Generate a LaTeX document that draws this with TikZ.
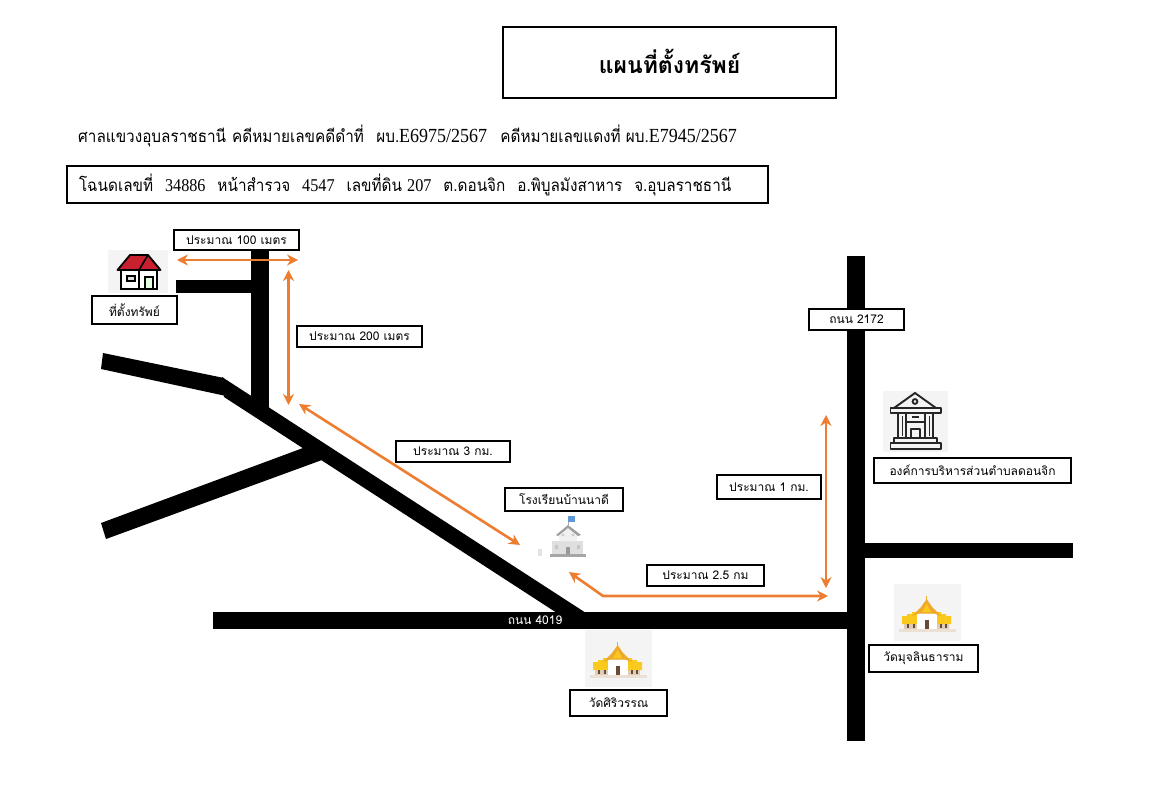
\documentclass[tikz,border=0pt]{standalone}
\usepackage{fontspec}
\usepackage{graphicx}
\setmainfont[Script=Thai]{Loma}
\newfontfamily\latinserif{Liberation Serif}
\usetikzlibrary{arrows.meta}
\definecolor{roadorange}{HTML}{ED7D31}
\definecolor{iconbg}{HTML}{F4F4F4}
\definecolor{roofred}{HTML}{C8202E}
\definecolor{watgold}{HTML}{EFA92B}
\definecolor{watyellow}{HTML}{F9C91E}
\definecolor{watbeige}{HTML}{DCCDB8}
\definecolor{watbrown}{HTML}{6B4A35}
\newcommand{\lsa}[1]{{\latinserif\fontsize{20}{22}\selectfont #1}}
\newcommand{\lsb}[1]{{\latinserif\fontsize{18}{20}\selectfont #1}}
\tikzset{
  x=1pt,y=-1pt,
  lbl/.style={draw=black,line width=1.9pt,fill=white,inner sep=0pt,align=center,font=\fontsize{12}{14}\selectfont,text=black},
  wide/.style={line width=2.4pt},
  road/.style={fill=black,draw=none},
  dist/.style={draw=roadorange,line width=2.6pt,{Stealth[length=11pt,width=11pt]}-{Stealth[length=11pt,width=11pt]}},
  pics/wat/.style={code={
    \fill[iconbg] (0,0) rectangle (67,57);
    \fill[watbeige!60!white] (5,45) rectangle (62,48);
    \fill[watbeige] (10,37) rectangle (55,45);
    \fill[watyellow] (8,40) -- (8,32) -- (13,32) -- (13,30) -- (18,30) -- (18,28) -- (24,28) -- (24,40) -- cycle;
    \fill[watyellow] (57,40) -- (57,32) -- (52,32) -- (52,30) -- (47,30) -- (47,28) -- (41,28) -- (41,40) -- cycle;
    \fill[white] (23,30) rectangle (43,45);
    \fill[watgold] (32.7,15) -- (38,23) -- (47,32) -- (40,29.5) -- (25,29.5) -- (18,32) -- (27,23) -- cycle;
    \fill[watyellow] (32.7,20) -- (37,28) -- (28,28) -- cycle;
    \fill[watgold] (32,12) rectangle (33.4,20);
    \fill[watbrown] (30.7,36) rectangle (35,45);
    \fill[watbrown] (13,40) rectangle (15,44);
    \fill[watbrown] (19,40) rectangle (21,44);
    \fill[watbrown] (46,40) rectangle (48,44);
    \fill[watbrown] (51,40) rectangle (53,44);
  }},
}
\begin{document}
\begin{tikzpicture}
\useasboundingbox (0,0) rectangle (1170,800);
\fill[white] (0,0) rectangle (1170,800);

% roads
\fill[road] (251,250) rectangle (269,409);
\fill[road] (176,279.5) rectangle (252,292.5);
\fill[road] (103,353) -- (224,378) -- (226,396) -- (101,369) -- cycle;
\fill[road] (222,377) -- (586,613) -- (557,613) -- (224,397) -- cycle;
\fill[road] (101,523) -- (303,448) -- (315,442) -- (335,452) -- (322,460) -- (106,539) -- cycle;
\fill[road] (213,612) rectangle (865,629);
\fill[road] (847,256) rectangle (865,741);
\fill[road] (865,543) rectangle (1073,558);

% house icon
\fill[iconbg] (108,250) rectangle (168,293);
\fill[white,draw=black,line width=2pt] (121,270) rectangle (157,289);
\fill[roofred,draw=black,line width=1.8pt,line join=round] (117.5,270) -- (130,255) -- (148,255) -- (160.5,270) -- cycle;
\draw[black,line width=1.6pt] (148,255) -- (139,270);
\draw[black,line width=1.6pt] (139,270) -- (139,289);
\draw[black,line width=1.4pt,fill=gray!25] (127,276) rectangle (135,281);
\draw[black,line width=1.4pt,fill=green!12] (145,277) rectangle (153,289);

% school icon
\fill[gray!22] (538,549) rectangle (542,556);
\fill[gray!25] (552,541) rectangle (583,554);
\fill[gray!12] (559,533) -- (568,527) -- (577,533) -- (577,541) -- (559,541) -- cycle;
\fill[gray!70] (550,554) rectangle (586,556.5);
\fill[gray!75] (556,535) -- (568,525) -- (581,535) -- (578,536) -- (568,528) -- (558,536) -- cycle;
\fill[gray!80] (566,547) rectangle (570,555);
\fill[gray!45] (555,545) rectangle (558,549);
\fill[gray!45] (577,545) rectangle (580,549);
\fill[gray!40] (563,535) circle (1.6);
\fill[gray!40] (573,535) circle (1.6);
\draw[gray!70,line width=.8pt] (568,525) -- (568,516);
\fill[cyan!55!blue!65] (568,516) rectangle (575,522);

% government icon
\fill[iconbg] (883,391) rectangle (948,452);
\begin{scope}[draw=black!85,line width=1.9pt,line join=round]
\draw (915,393) -- (936,408) -- (894,408) -- cycle;
\draw (890.5,408) rectangle (941,413);
\draw (915,401.5) circle (2.4);
\draw (898,413) -- (898,437) (906,413) -- (906,437);
\draw (925,413) -- (925,437) (933,413) -- (933,437);
\draw[line width=1pt] (902,416) -- (902,436) (929,416) -- (929,436);
\draw (906,422) -- (925,422);
\draw[line width=1.2pt] (912,417) -- (919,417);
\draw (911,429) rectangle (920,438);
\draw (894,438) rectangle (937,443);
\draw (890.5,443) rectangle (941,449);
\end{scope}

% temples
\pic at (585,630) {wat};
\pic at (894,584) {wat};

% distance markers
\coordinate (a1) at (177,260); \coordinate (a2) at (298,260);
\coordinate (b1) at (288.5,270); \coordinate (b2) at (288.5,405);
\coordinate (c1) at (299,404); \coordinate (c2) at (520,545);
\coordinate (d1) at (569,572); \coordinate (d2) at (603,596); \coordinate (d3) at (828,596);
\coordinate (e1) at (826,415); \coordinate (e2) at (826,588);
\draw[dist] (a1) -- (a2);
\draw[dist] (b1) -- (b2);
\draw[dist] (c1) -- (c2);
\draw[dist,line join=miter] (d1) -- (d2) -- (d3);
\draw[dist] (e1) -- (e2);

% labels
\node[lbl,wide,minimum width=333pt,minimum height=71pt,font=\fontsize{23}{26}\selectfont\bfseries] (title) at (669.5,62.5) {\raisebox{3pt}{แผนที่ตั้งทรัพย์}};
\node[anchor=west,inner sep=0pt,font=\fontsize{17}{19}\selectfont] (court) at (78,136) {\scalebox{.9}[1]{ศาลแขวงอุบลราชธานี \hspace*{1pt}คดีหมายเลขคดีดำที่\hspace*{8pt} ผบ.\lsa{E6975/2567}\hspace*{9pt} คดีหมายเลขแดงที่ ผบ.\lsa{E7945/2567}}};
\node[lbl,wide,minimum width=701pt,minimum height=37pt,font=\fontsize{17}{19}\selectfont] (deed) at (417.5,184.5) {\makebox[677pt][l]{\scalebox{.9}[1]{โฉนดเลขที่\hspace*{7.5pt} \lsb{34886}\hspace*{7.5pt} หน้าสำรวจ\hspace*{7.5pt} \lsb{4547}\hspace*{7.5pt} เลขที่ดิน \lsb{207}\hspace*{7.5pt} ต.ดอนจิก\hspace*{7.5pt} อ.พิบูลมังสาหาร\hspace*{7.5pt} จ.อุบลราชธานี}}};
\node[lbl,minimum width=125pt,minimum height=20pt] (l100) at (236.5,240) {ประมาณ 100 เมตร};
\node[lbl,minimum width=85pt,minimum height=28pt] (home) at (134.5,310) {ที่ตั้งทรัพย์};
\node[lbl,minimum width=125pt,minimum height=21pt] (l200) at (359.5,336.5) {ประมาณ 200 เมตร};
\node[lbl,minimum width=114pt,minimum height=21pt] (l3k) at (453,451.5) {ประมาณ 3 กม.};
\node[lbl,minimum width=118pt,minimum height=23pt] (school) at (564,499.5) {โรงเรียนบ้านนาดี};
\node[lbl,minimum width=117pt,minimum height=21pt] (l25) at (705.5,575.5) {ประมาณ 2.5 กม};
\node[font=\fontsize{12}{14}\selectfont,text=white,inner sep=0pt] (r4019) at (535,620) {ถนน 4019};
\node[lbl,minimum width=97pt,minimum height=26pt] (wat1) at (618.5,703) {วัดศิริวรรณ};
\node[lbl,minimum width=95pt,minimum height=21pt] (r2172) at (856.5,319.5) {ถนน 2172};
\node[lbl,minimum width=104pt,minimum height=24pt] (l1k) at (769,487) {ประมาณ 1 กม.};
\node[lbl,minimum width=197pt,minimum height=25pt] (sao) at (972.5,470.5) {องค์การบริหารส่วนตำบลดอนจิก};
\node[lbl,minimum width=109pt,minimum height=27pt] (wat2) at (923.5,658.5) {วัดมุจลินธาราม};
\end{tikzpicture}
\end{document}
